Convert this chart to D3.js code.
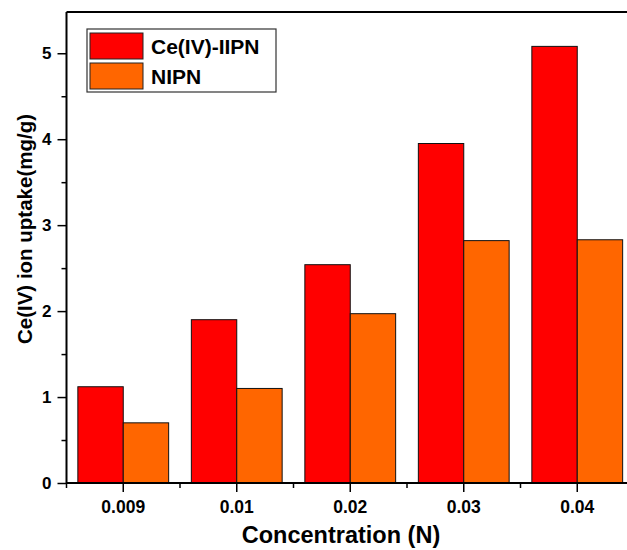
<!DOCTYPE html>
<html>
<head>
<meta charset="utf-8">
<script src="https://cdn.jsdelivr.net/npm/d3@7"></script>
<style>
  body { margin: 0; background: #fff; }
  svg text { font-family: "Liberation Sans", Arial, sans-serif; font-weight: bold; }
</style>
</head>
<body>
<div id="chart"></div>
<script>
// chart data
const concentrations = ["0.009", "0.01", "0.02", "0.03", "0.04"];
const seriesNames = ["Ce(IV)-IIPN", "NIPN"];
const iipnUptake = [1.12, 1.90, 2.54, 3.95, 5.08];
const nipnUptake = [0.70, 1.10, 1.97, 2.82, 2.83];
const seriesColors = ["#ff0000", "#ff6600"];
const yTicks = [0, 1, 2, 3, 4, 5];

const width = 627, height = 550;
const margin = {left: 66.5, top: 12, bottom: 67};
const plotW = 567.5; // right edge falls outside the picture
const plotH = height - margin.top - margin.bottom;

const svg = d3.select("#chart").append("svg")
  .attr("width", width)
  .attr("height", height);

const g = svg.append("g")
  .attr("transform", "translate(" + margin.left + "," + margin.top + ")");

// each category gets one slot, bars fill the middle 80% of it
const xSlot = d3.scaleBand().domain(concentrations).range([0, plotW]);
const slot = xSlot.bandwidth();
const xSub = d3.scaleBand().domain(seriesNames).range([0, slot * 0.8]);

const y = d3.scaleLinear().domain([0, 5.48]).range([plotH, 0]);

const rows = concentrations.map((c, i) => ({c: c, vals: [iipnUptake[i], nipnUptake[i]]}));

// bars
const groups = g.selectAll(".grp")
  .data(rows)
  .enter().append("g")
  .attr("class", "grp")
  .attr("transform", d => "translate(" + (xSlot(d.c) + slot * 0.1) + ",0)");

groups.selectAll("rect")
  .data(d => d.vals.map((v, k) => ({name: seriesNames[k], v: v, k: k})))
  .enter().append("rect")
  .attr("x", d => xSub(d.name))
  .attr("y", d => y(d.v))
  .attr("width", xSub.bandwidth())
  .attr("height", d => plotH - y(d.v))
  .attr("fill", d => seriesColors[d.k])
  .attr("stroke", "#111")
  .attr("stroke-width", 1);

// y axis
const yAxis = g.append("g")
  .call(d3.axisLeft(y).tickValues(yTicks).tickSize(9).tickPadding(6).tickFormat(d3.format("d")));
yAxis.select(".domain").remove();
yAxis.selectAll("line").attr("stroke", "#000").attr("stroke-width", 1.5);
yAxis.selectAll("text").attr("font-size", 17).attr("fill", "#000");

const yMinor = g.append("g")
  .call(d3.axisLeft(y).tickValues(d3.range(0.5, 5.5, 1)).tickSize(5).tickFormat(""));
yMinor.select(".domain").remove();
yMinor.selectAll("line").attr("stroke", "#000").attr("stroke-width", 1.5);

// x axis
const xAxis = g.append("g")
  .attr("transform", "translate(0," + plotH + ")")
  .call(d3.axisBottom(xSlot).tickSize(9).tickPadding(9));
xAxis.select(".domain").remove();
xAxis.selectAll("line").attr("stroke", "#000").attr("stroke-width", 1.5);
xAxis.selectAll("text").attr("font-size", 17.5).attr("fill", "#000");

g.append("g")
  .selectAll("line")
  .data(concentrations)
  .enter().append("line")
  .attr("x1", d => xSlot(d))
  .attr("x2", d => xSlot(d))
  .attr("y1", plotH)
  .attr("y2", plotH + 5)
  .attr("stroke", "#000")
  .attr("stroke-width", 1.5);

// frame
g.append("line").attr("x1", 0).attr("x2", 0).attr("y1", 0).attr("y2", plotH)
  .attr("stroke", "#000").attr("stroke-width", 2);
g.append("line").attr("x1", 0).attr("x2", plotW).attr("y1", plotH).attr("y2", plotH)
  .attr("stroke", "#000").attr("stroke-width", 2);
g.append("line").attr("x1", 0).attr("x2", plotW).attr("y1", 0).attr("y2", 0)
  .attr("stroke", "#000").attr("stroke-width", 2);

// axis titles
svg.append("text")
  .attr("x", 341)
  .attr("y", 543)
  .attr("text-anchor", "middle")
  .attr("font-size", 23.5)
  .text("Concentration (N)");

svg.append("text")
  .attr("transform", "translate(32,229) rotate(-90)")
  .attr("text-anchor", "middle")
  .attr("font-size", 20.5)
  .text("Ce(IV) ion uptake(mg/g)");

// legend
const legend = svg.append("g").attr("transform", "translate(87,29)");
legend.append("rect")
  .attr("width", 189).attr("height", 63)
  .attr("fill", "#fff").attr("stroke", "#333").attr("stroke-width", 1.2);
const items = legend.selectAll(".item")
  .data(seriesNames)
  .enter().append("g")
  .attr("transform", (d, i) => "translate(3," + (4 + i * 30) + ")");
items.append("rect")
  .attr("width", 53).attr("height", 26)
  .attr("fill", (d, i) => seriesColors[i])
  .attr("stroke", "#222").attr("stroke-width", 1);
items.append("text")
  .attr("x", 61).attr("y", 21)
  .attr("font-size", 21)
  .text(d => d);
</script>
</body>
</html>
